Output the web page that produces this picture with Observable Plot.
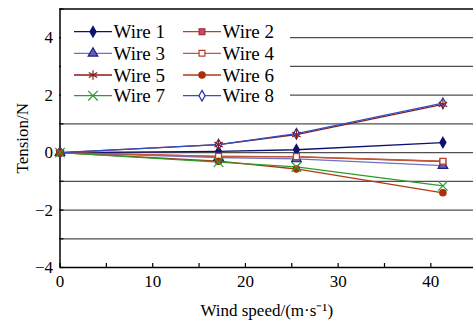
<!DOCTYPE html>
<html>
<head>
<meta charset="utf-8">
<script src="https://cdn.jsdelivr.net/npm/d3@7"></script>
<script src="https://cdn.jsdelivr.net/npm/@observablehq/plot@0.6"></script>
</head>
<body style="margin:0;padding:0;background:#fff">
<div id="wrap"></div>
<script>
// ---- data ----
const windSpeed = [0, 17.1, 25.5, 41.3];
const seriesNames = ["Wire 1", "Wire 2", "Wire 3", "Wire 4", "Wire 5", "Wire 6", "Wire 7", "Wire 8"];
const wire1 = [0, 0.04, 0.10, 0.35];
const wire2 = [0, -0.13, -0.15, -0.31];
const wire3 = [0, -0.17, -0.22, -0.45];
const wire4 = [0, -0.13, -0.14, -0.30];
const wire5 = [0, 0.28, 0.63, 1.68];
const wire6 = [0, -0.30, -0.57, -1.40];
const wire7 = [0, -0.33, -0.50, -1.16];
const wire8 = [0, 0.28, 0.66, 1.72];
const seriesValues = [wire1, wire2, wire3, wire4, wire5, wire6, wire7, wire8];
const xTickLabels = [0, 10, 20, 30, 40];
const yTickLabels = [-4, -2, 0, 2, 4];

// ---- styles ----
const styles = [
  {line: "#101070", symbol: "diamond", fill: "#101070", stroke: "#101070", r: 3.2},
  {line: "#b8402a", symbol: "square", fill: "#c04a8a", stroke: "#a83020", r: 3.3},
  {line: "#7070c8", symbol: "triangle", fill: "#6060b8", stroke: "#202080", r: 3.6},
  {line: "#c05a3a", symbol: "square", fill: "#fff", stroke: "#b84028", r: 3.3},
  {line: "#8a1a1a", symbol: "asterisk", fill: "none", stroke: "#8a1a1a", r: 4.6},
  {line: "#b03a10", symbol: "circle", fill: "#a8300c", stroke: "#a8300c", r: 3.2},
  {line: "#2e9a2e", symbol: "times", fill: "none", stroke: "#2e9a2e", r: 4.4},
  {line: "#3050c8", symbol: "diamond", fill: "#fff", stroke: "#2030a0", r: 3.2}
];
const markerOrder = [0, 1, 2, 3, 7, 4, 5, 6];

const rows = [];
seriesNames.forEach((name, i) => {
  seriesValues[i].forEach((v, j) => rows.push({series: name, idx: i, x: windSpeed[j], y: v}));
});

const font = "'Liberation Serif', serif";
const minus = d => (d < 0 ? "\u2212" + Math.abs(d) : String(d));

const marks = [
  Plot.ruleY([-3, -2, -1, 0, 1, 2, 3, 4], {stroke: "#505050", strokeWidth: 1.3}),
  Plot.ruleY([5], {stroke: "#000", strokeWidth: 1.3}),
  Plot.ruleY([-4], {stroke: "#000", strokeWidth: 1.5}),
  Plot.ruleX([0], {stroke: "#000", strokeWidth: 1.5}),
  Plot.axisX({ticks: d3.range(0, 45, 5), tickSize: -4, text: null, anchor: "bottom", stroke: "#000", strokeWidth: 1.2, label: null}),
  Plot.axisY({ticks: d3.range(-4, 6, 1), tickSize: -4, text: null, anchor: "left", stroke: "#000", strokeWidth: 1.2, label: null}),
  Plot.axisX({ticks: xTickLabels, tickSize: 0, tickPadding: 7, anchor: "bottom", fontSize: 17, fontFamily: font,
    label: "Wind speed/(m\u00b7s\u207b\u00b9)", labelAnchor: "center", labelArrow: "none", labelOffset: 48, tickFormat: d => String(d)}),
  Plot.axisY({ticks: yTickLabels, tickSize: 0, tickPadding: 7, anchor: "left", fontSize: 17, fontFamily: font,
    label: "Tension/N", labelAnchor: "center", labelArrow: "none", labelOffset: 44, tickFormat: minus})
];
seriesNames.forEach((name, i) => {
  const s = styles[i];
  const d = rows.filter(r => r.idx === i);
  marks.push(Plot.line(d, {x: "x", y: "y", stroke: s.line, strokeWidth: 1.3}));
});
markerOrder.forEach(i => {
  const s = styles[i];
  const d = rows.filter(r => r.idx === i);
  marks.push(Plot.dot(d, {x: "x", y: "y", symbol: () => s.symbol, r: s.r, fill: s.fill, stroke: s.stroke, strokeWidth: 1.2}));
});

const chart = Plot.plot({
  width: 473,
  height: 322,
  marginLeft: 59.5,
  marginRight: 0,
  marginTop: 8.5,
  marginBottom: 55,
  style: {fontFamily: font, fontSize: "17px", background: "#fff", color: "#000"},
  x: {domain: [0, 44.6], label: null},
  y: {domain: [-4, 5], label: null},
  marks
});
document.getElementById("wrap").appendChild(chart);
chart.querySelectorAll("text, g").forEach(el => { el.setAttribute("font-family", font); el.style.fontFamily = font; });

// ---- legend drawn inside the SVG (white box hides the grid lines) ----
const svg = d3.select(chart);
const lg = svg.append("g").attr("font-family", font).attr("font-size", 19).attr("text-anchor", "start");
lg.append("rect").attr("x", 61).attr("y", 10).attr("width", 229).attr("height", 108).attr("fill", "#fff");
const symMap = {diamond: d3.symbolDiamond, square: d3.symbolSquare, triangle: d3.symbolTriangle, asterisk: d3.symbolAsterisk, circle: d3.symbolCircle, times: d3.symbolTimes};
const rowY = [31.7, 53.3, 75, 95.7];
const colX = [74, 183];
seriesNames.forEach((name, i) => {
  const s = styles[i];
  const col = i % 2, row = Math.floor(i / 2);
  const x0 = colX[col], y0 = rowY[row];
  const g = lg.append("g").attr("transform", `translate(${x0},${y0})`);
  g.append("line").attr("x1", 0).attr("x2", 38).attr("y1", 0).attr("y2", 0).attr("stroke", s.line).attr("stroke-width", 1.3);
  g.append("path").attr("transform", "translate(19,0)")
    .attr("d", d3.symbol(symMap[s.symbol], Math.PI * s.r * s.r)())
    .attr("fill", s.fill).attr("stroke", s.stroke).attr("stroke-width", 1.2);
  g.append("text").attr("x", 39.5).attr("y", 6.5).attr("fill", "#000").attr("text-anchor", "start")
    .attr("font-family", font).style("font-family", font).text(name);
});
</script>
</body>
</html>
